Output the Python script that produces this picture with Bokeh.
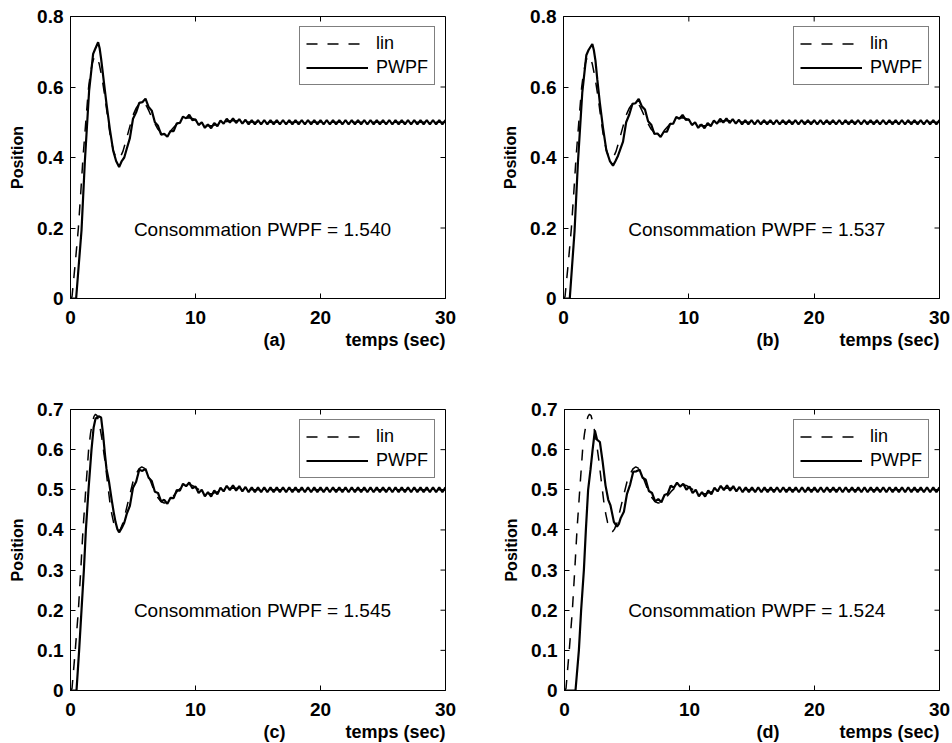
from bokeh.plotting import figure
from bokeh.layouts import column, row
from bokeh.models import Label, Legend, LegendItem, FixedTicker, Title
from bokeh.embed import file_html
from bokeh.resources import INLINE

FONT = "Liberation Sans"

# ---- axis ticks -----------------------------------------------------------
x_ticks = [0, 10, 20, 30]
y_ticks_upper = [0, 0.2, 0.4, 0.6, 0.8]
y_ticks_lower = [0, 0.1, 0.2, 0.3, 0.4, 0.5, 0.6, 0.7]

# ---- linear controller response (same in every panel) ---------------------
lin_t = [0, 0.12, 0.38, 0.63, 0.82, 1.0, 1.22, 1.45, 1.6, 1.75,
         1.88, 2.0, 2.12, 2.3, 2.5, 2.75, 2.95, 3.15, 3.3, 3.45,
         3.58, 3.7, 3.85, 4.0, 4.2, 4.4, 4.7, 5.0, 5.25, 5.5,
         5.7, 5.9, 6.1, 6.3, 6.6, 7.0, 7.25, 7.5, 7.75, 8.0,
         8.3, 8.6, 8.9, 9.2, 9.5, 9.8, 10.3, 10.7, 11.0, 11.4,
         11.8, 12.3, 12.8, 13.4, 14.0, 15.0, 30.0]
lin_y = [0, 0.005, 0.1, 0.2, 0.3, 0.4, 0.5, 0.6, 0.64, 0.668,
         0.683, 0.688, 0.685, 0.665, 0.63, 0.573, 0.52, 0.469, 0.44, 0.418,
         0.405, 0.397, 0.396, 0.402, 0.418, 0.443, 0.482, 0.52, 0.54, 0.553,
         0.557, 0.554, 0.545, 0.53, 0.505, 0.48, 0.47, 0.467, 0.469, 0.475,
         0.487, 0.498, 0.507, 0.512, 0.513, 0.51, 0.5, 0.493, 0.49, 0.491,
         0.495, 0.5, 0.504, 0.504, 0.501, 0.5, 0.5]

# ---- PWPF responses: first overshoot (0 - 4.4 s) ---------------------------
rise_a_t = [0, 0.45, 0.65, 0.88, 1.15, 1.49, 1.81, 2.0, 2.21, 2.33,
            2.45, 2.65, 2.88, 3.15, 3.41, 3.65, 3.89, 4.1, 4.3]
rise_a_y = [0, 0, 0.09, 0.193, 0.39, 0.59, 0.694, 0.71, 0.727, 0.71,
            0.68, 0.62, 0.552, 0.48, 0.42, 0.39, 0.373, 0.39, 0.4]

rise_b_t = [0, 0.5, 0.68, 0.88, 1.15, 1.5, 1.82, 2.0, 2.3, 2.42,
            2.55, 2.7, 2.9, 3.15, 3.42, 3.7, 3.95, 4.15, 4.35]
rise_b_y = [0, 0, 0.09, 0.19, 0.385, 0.585, 0.69, 0.705, 0.722, 0.705,
            0.675, 0.62, 0.555, 0.485, 0.42, 0.39, 0.377, 0.39, 0.405]

rise_c_t = [0, 0.48, 0.69, 0.88, 1.07, 1.23, 1.44, 1.68, 1.85, 2.0,
            2.25, 2.45, 2.6, 2.75, 2.88, 3.08, 3.28, 3.45, 3.6, 3.75,
            3.89, 4.1, 4.3]
rise_c_y = [0, 0, 0.1, 0.2, 0.3, 0.4, 0.5, 0.6, 0.655, 0.677,
            0.683, 0.68, 0.64, 0.59, 0.552, 0.52, 0.478, 0.445, 0.42, 0.402,
            0.394, 0.405, 0.418]

rise_d_t = [0, 0.88, 1.15, 1.33, 1.55, 1.71, 1.89, 2.08, 2.25, 2.43,
            2.6, 2.83, 3.05, 3.28, 3.5, 3.68, 3.95, 4.2, 4.35]
rise_d_y = [0, 0, 0.1, 0.2, 0.3, 0.4, 0.5, 0.55, 0.6, 0.648,
            0.625, 0.619, 0.57, 0.511, 0.475, 0.461, 0.42, 0.408, 0.415]

# ---- PWPF responses: damped part with pulse ripple, 4.5 s to 9.75 s ---------
# (one sample every 0.25 s)
settle_a_y = [0.425, 0.455, 0.510, 0.528, 0.555, 0.557, 0.567, 0.543, 0.533,
              0.500, 0.490, 0.465, 0.467, 0.459, 0.475, 0.475, 0.497, 0.498,
              0.516, 0.511, 0.521, 0.506]
settle_b_y = [0.420, 0.445, 0.500, 0.522, 0.552, 0.554, 0.566, 0.545, 0.536,
              0.503, 0.493, 0.467, 0.468, 0.458, 0.473, 0.473, 0.495, 0.496,
              0.515, 0.510, 0.521, 0.507]
settle_c_y = [0.440, 0.460, 0.505, 0.520, 0.550, 0.547, 0.552, 0.530, 0.522,
              0.495, 0.492, 0.471, 0.475, 0.465, 0.480, 0.479, 0.499, 0.498,
              0.515, 0.509, 0.518, 0.504]
settle_d_y = [0.430, 0.445, 0.490, 0.513, 0.545, 0.546, 0.550, 0.530, 0.525,
              0.497, 0.492, 0.471, 0.477, 0.469, 0.487, 0.490, 0.510, 0.505,
              0.518, 0.508, 0.515, 0.500]
settle_t = [4.5 + 0.25 * k for k in range(len(settle_a_y))]

# ---- PWPF steady-state limit cycle, 10 s to 30 s (every 0.25 s) ------------
tail_y = [
    0.508, 0.492, 0.500, 0.484, 0.494, 0.483, 0.498, 0.489, 0.505, 0.496,
    0.510, 0.499, 0.511, 0.498, 0.509, 0.496, 0.507, 0.494,
    0.506, 0.494, 0.506, 0.494, 0.506, 0.494, 0.506, 0.494, 0.506, 0.494,
    0.506, 0.494, 0.506, 0.494, 0.506, 0.494, 0.506, 0.494, 0.506, 0.494,
    0.506, 0.494, 0.506, 0.494, 0.506, 0.494, 0.506, 0.494, 0.506, 0.494,
    0.506, 0.494, 0.506, 0.494, 0.506, 0.494, 0.506, 0.494, 0.506, 0.494,
    0.506, 0.494, 0.506, 0.494, 0.506, 0.494, 0.506, 0.494, 0.506, 0.494,
    0.506, 0.494, 0.506, 0.494, 0.506, 0.494, 0.506, 0.494, 0.506, 0.494,
    0.506, 0.494, 0.506,
]
tail_t = [10 + 0.25 * k for k in range(len(tail_y))]

# ---- panel captions ----------------------------------------------------------
consumption = ["1.540", "1.537", "1.545", "1.524"]
panel_tags = ["(a)", "(b)", "(c)", "(d)"]

TICK_LEN = 5  # px, inward box ticks


def make_panel(t, y, ymax, yticks, tag, cons, borders, size, cons_pos):
    left, right, top, bottom = borders
    w, h = size
    p = figure(width=w, height=h, x_range=(0, 30), y_range=(0, ymax),
               toolbar_location=None, output_backend="svg",
               min_border_left=left, min_border_right=right,
               min_border_top=top, min_border_bottom=bottom,
               background_fill_color="white", border_fill_color="white",
               outline_line_color="black", outline_line_width=1)
    p.xgrid.visible = False
    p.ygrid.visible = False

    for ax, ticks in ((p.xaxis[0], x_ticks), (p.yaxis[0], yticks)):
        ax.ticker = FixedTicker(ticks=ticks)
        ax.major_tick_in = TICK_LEN
        ax.major_tick_out = 0
        ax.minor_tick_line_color = None
        ax.axis_line_color = "black"
        ax.major_tick_line_color = "black"
        ax.major_label_text_font = FONT
        ax.major_label_text_font_style = "bold"
        ax.major_label_text_font_size = "19px"
        ax.major_label_text_color = "black"
        ax.major_label_overrides = {0: "0"}
    p.xaxis[0].major_label_standoff = 12
    p.yaxis[0].major_label_standoff = 7

    p.yaxis[0].axis_label = "Position"
    p.yaxis[0].axis_label_text_font = FONT
    p.yaxis[0].axis_label_text_font_style = "bold"
    p.yaxis[0].axis_label_text_font_size = "16px"
    p.yaxis[0].axis_label_text_color = "black"
    p.yaxis[0].axis_label_standoff = 8

    # inward ticks on the top and right edges of the box
    frame_w = w - left - right
    frame_h = h - top - bottom
    dy = TICK_LEN * ymax / frame_h
    dx = TICK_LEN * 30 / frame_w
    p.segment(x0=x_ticks, x1=x_ticks, y0=[ymax] * len(x_ticks),
              y1=[ymax - dy] * len(x_ticks), line_color="black", line_width=1)
    p.segment(x0=[30] * len(yticks), x1=[30 - dx] * len(yticks),
              y0=yticks, y1=yticks, line_color="black", line_width=1)

    r_pwpf = p.line(t, y, line_color="black", line_width=2.2)
    r_lin = p.line(lin_t, lin_y, line_color="black", line_width=1.5,
                   line_dash="11 10")

    legend = Legend(items=[LegendItem(label="lin", renderers=[r_lin]),
                           LegendItem(label="PWPF", renderers=[r_pwpf])],
                    location="top_right", margin=10, padding=6, spacing=3,
                    glyph_width=62, glyph_height=19, label_height=19,
                    label_standoff=8,
                    label_text_font=FONT, label_text_font_size="18px",
                    label_text_color="black",
                    border_line_color="black", border_line_width=1,
                    background_fill_color="white", background_fill_alpha=1)
    p.add_layout(legend)

    p.add_layout(Label(x=cons_pos[0], y=cons_pos[1],
                       text="Consommation PWPF = " + cons,
                       text_font=FONT, text_font_size="19px",
                       text_color="black", text_align="left",
                       text_baseline="middle"))

    foot = Title(text=tag + "\u00a0" * 12 + "temps (sec)", align="right",
                 text_font=FONT, text_font_size="18px",
                 text_font_style="bold", text_color="black", standoff=2)
    p.add_layout(foot, "below")
    return p


pa = make_panel(rise_a_t + settle_t + tail_t, rise_a_y + settle_a_y + tail_y,
                0.8, y_ticks_upper, panel_tags[0], consumption[0],
                (70, 31, 16, 74), (476, 372), (5.07, 0.195))
pb = make_panel(rise_b_t + settle_t + tail_t, rise_b_y + settle_b_y + tail_y,
                0.8, y_ticks_upper, panel_tags[1], consumption[1],
                (87, 13, 16, 74), (476, 372), (5.17, 0.195))
pc = make_panel(rise_c_t + settle_t + tail_t, rise_c_y + settle_c_y + tail_y,
                0.7, y_ticks_lower, panel_tags[2], consumption[2],
                (70, 31, 37, 53), (476, 371), (5.07, 0.199))
pd = make_panel(rise_d_t + settle_t + tail_t, rise_d_y + settle_d_y + tail_y,
                0.7, y_ticks_lower, panel_tags[3], consumption[3],
                (88, 13, 37, 53), (476, 371), (5.09, 0.199))

layout = column(row(pa, pb), row(pc, pd))

with open("out.html", "w") as f:
    f.write(file_html(layout, INLINE))
